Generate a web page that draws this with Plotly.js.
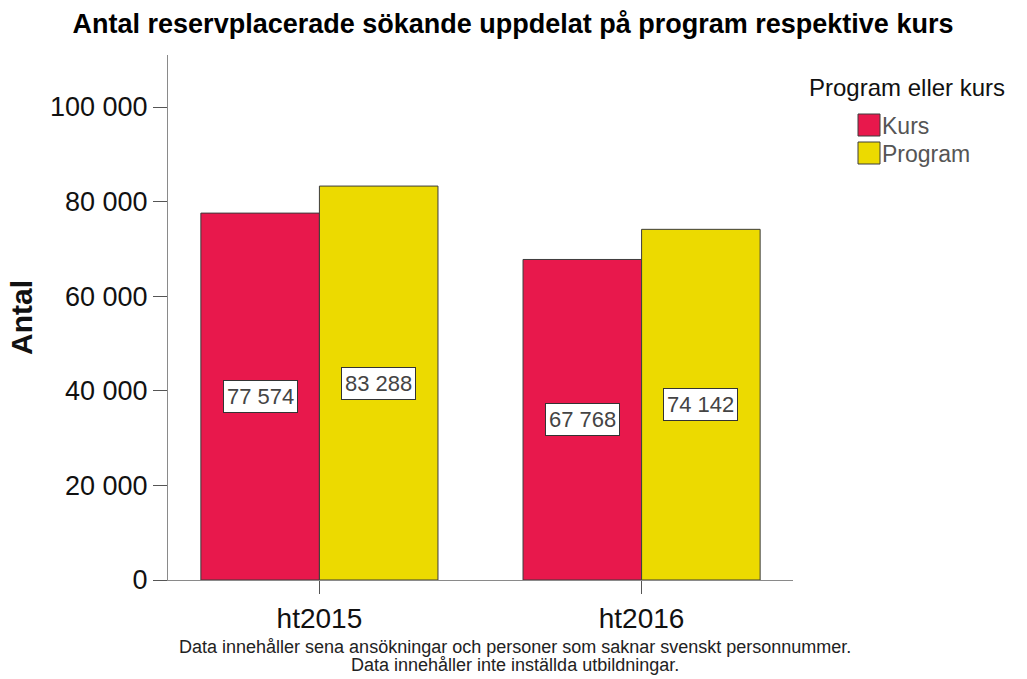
<!DOCTYPE html>
<html><head><meta charset="utf-8">
<script src="https://cdn.plot.ly/plotly-3.0.1.min.js"></script>
<style>html,body{margin:0;padding:0;background:#fff}#chart{width:1027px;height:679px}</style>
</head><body><div id="chart"></div>
<script>
const terms = ['ht2015', 'ht2016'];
const seriesNames = ['Kurs', 'Program'];
const kursValues = [77574, 67768];
const programValues = [83288, 74142];
const seriesColors = ['#E8184C', '#ECDA00'];
const legendTitle = 'Program eller kurs';
const footnoteLines = ['Data innehåller sena ansökningar och personer som saknar svenskt personnummer.',
  'Data innehåller inte inställda utbildningar.'];

const FONT = '"Liberation Sans", Arial, sans-serif';
const bargap = 0.264;
const fmt = v => String(v).replace(/\B(?=(\d{3})+(?!\d))/g, ' ');

const allSeries = [kursValues, programValues];
const traces = allSeries.map((vals, i) => ({
  type: 'bar', x: terms, y: vals, name: seriesNames[i],
  marker: {color: seriesColors[i], line: {color: '#3c3c3c', width: 1}},
  hoverinfo: 'x+y+name', showlegend: false
}));

const W = 1027, H = 679, ml = 168, mr = 234, mt = 55, mb = 99;
const pw = W - ml - mr, ph = H - mt - mb;
const px = x => (x - ml) / pw, py = y => (H - mb - y) / ph;

const half = (1 - bargap) / 4;
const annotations = [];
allSeries.forEach((vals, i) => {
  vals.forEach((v, j) => {
    annotations.push({
      x: j + (i === 0 ? -half : half), y: v / 2, xref: 'x', yref: 'y',
      text: fmt(v), showarrow: false, font: {family: FONT, size: 22, color: '#444'},
      bgcolor: '#ffffff', bordercolor: '#333333', borderwidth: 1, borderpad: 3
    });
  });
});
annotations.push({
  x: px(807), y: py(87), xref: 'paper', yref: 'paper', xanchor: 'left', yanchor: 'middle',
  text: legendTitle, showarrow: false, font: {family: FONT, size: 24, color: '#111'}
});
const shapes = [];
const legTop = 114, legStep = 28, sq = 22, legX = 858;
seriesNames.forEach((n, i) => {
  const t = legTop + i * legStep;
  shapes.push({type: 'rect', xref: 'paper', yref: 'paper', x0: px(legX), x1: px(legX + sq),
    y0: py(t + sq), y1: py(t), fillcolor: seriesColors[i], line: {color: '#3c3c3c', width: 1}});
  annotations.push({x: px(legX + sq), y: py(t + sq / 2 + 1), xref: 'paper', yref: 'paper',
    xanchor: 'left', yanchor: 'middle', text: n, showarrow: false,
    font: {family: FONT, size: 23, color: '#555'}});
});
footnoteLines.forEach((line, i) => {
  annotations.push({x: px(515), y: py(647 + i * 18), xref: 'paper', yref: 'paper', xanchor: 'center', yanchor: 'middle',
    text: line, showarrow: false, font: {family: FONT, size: 18, color: '#222'}});
});

const layout = {
  width: W, height: H, margin: {l: ml, r: mr, t: mt, b: mb},
  paper_bgcolor: '#fff', plot_bgcolor: '#fff', separators: ', ',
  font: {family: FONT, color: '#111'},
  title: {text: '<b>Antal reservplacerade sökande uppdelat på program respektive kurs</b>',
    x: px(513), xref: 'paper', xanchor: 'center', y: 1 - 24 / H, yanchor: 'middle', font: {family: FONT, size: 27, color: '#000'}},
  barmode: 'group', bargap: bargap, bargroupgap: 0,
  xaxis: {type: 'category', range: [-0.47, 1.47], showline: true, linecolor: '#8a8a8a', linewidth: 1,
    ticks: 'outside', ticklen: 13, tickcolor: '#555', showgrid: false, zeroline: false,
    tickfont: {family: FONT, size: 28, color: '#111'}, fixedrange: true},
  yaxis: {range: [0, 111000], tickvals: [0, 20000, 40000, 60000, 80000, 100000], tickformat: ',d',
    showline: true, linecolor: '#8a8a8a', linewidth: 1, ticks: 'outside', ticklen: 14, tickcolor: '#555',
    showgrid: false, zeroline: false, tickfont: {family: FONT, size: 27, color: '#111'},
    title: {text: '<b>Antal</b>', standoff: 8, font: {family: FONT, size: 30, color: '#111'}}, fixedrange: true},
  annotations: annotations, shapes: shapes, showlegend: false
};
Plotly.newPlot('chart', traces, layout, {displayModeBar: false, staticPlot: true});
</script></body></html>
